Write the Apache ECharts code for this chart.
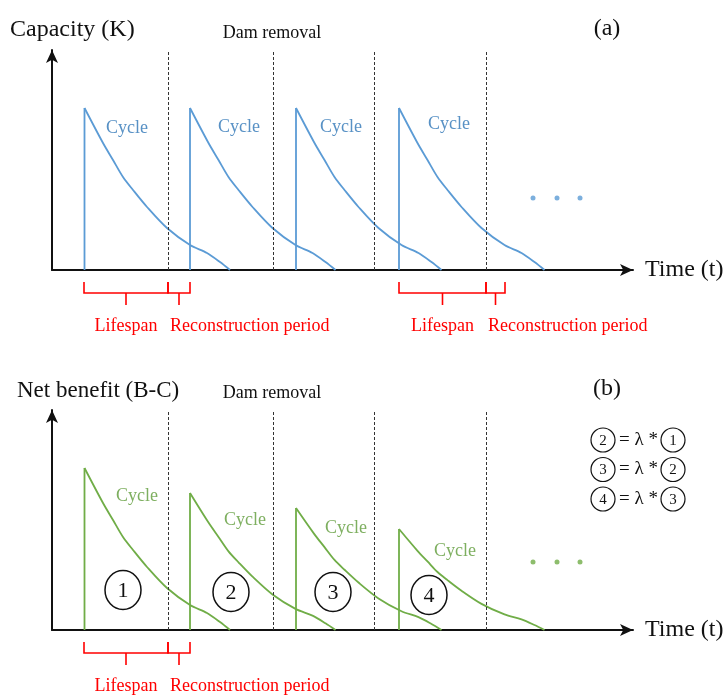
<!DOCTYPE html>
<html>
<head>
<meta charset="utf-8">
<script src="https://cdn.jsdelivr.net/npm/echarts@6/dist/echarts.min.js"></script>
<style>
  html, body { margin: 0; padding: 0; background: #fff; }
  #chart { width: 726px; height: 697px; }
</style>
</head>
<body>
<div id="chart"></div>
<script>
// Schematic timeline of dam cycles (time in arbitrary units).
const cycleStarts = [3.25, 13.8, 24.4, 34.7];
const damRemovals = [11.6, 22.1, 32.2, 43.4];
// One cycle after (re)construction: [time since start, share of the cycle peak]
const decayProfile = [
  [0, 1], [1.85, 0.784], [2.85, 0.679], [3.85, 0.574], [4.85, 0.494],
  [6.25, 0.389], [8.25, 0.259], [10.55, 0.154], [12.25, 0.105],
  [13.55, 0.049], [14.55, 0]
];
const capacityPeaks = [16.2, 16.2, 16.2, 16.2];
const benefitPeaks = [16.2, 13.7, 12.2, 10.1];

const capacityLabelPos = [[7.5, 14.2], [18.7, 14.3], [28.9, 14.3], [39.7, 14.6]];
const benefitLabelPos = [[8.5, 13.4], [19.3, 11.0], [29.4, 10.2], [40.3, 7.9]];
const cycleNumberPos = [[7.1, 4.0], [17.9, 3.8], [28.1, 3.8], [37.7, 3.5]];
const cycleNumbers = ['1', '2', '3', '4'];

const continuationDots = [48.1, 50.5, 52.8];
const capacityDotLevel = 7.2;
const benefitDotLevel = 6.8;

// [from, to, text, text alignment]
const capacityBrackets = [
  [3.2, 11.6, 'Lifespan', 'center'],
  [11.6, 13.8, 'Reconstruction period', 'left'],
  [34.7, 43.4, 'Lifespan', 'center'],
  [43.4, 45.3, 'Reconstruction period', 'left']
];
const benefitBrackets = [
  [3.2, 11.6, 'Lifespan', 'center'],
  [11.6, 13.8, 'Reconstruction period', 'left']
];

// Equation rows: [left circle, right circle]
const lambdaRows = [['2', '1'], ['3', '2'], ['4', '3']];

const SERIF = '"Liberation Serif", "Times New Roman", serif';
const BLUE = '#5B9BD5', BLUE_TEXT = '#2E75B6';
const GREEN = '#70AD47', GREEN_TEXT = '#5E9B38';
const RED = '#FF0000';
const INK = '#111111';

const chart = echarts.init(document.getElementById('chart'), null, { renderer: 'canvas' });

function decayLine(start, peak) {
  return decayProfile.map(([dt, f]) => [start + dt, +(f * peak).toFixed(3)]);
}

function axisPair(idx) {
  return {
    x: {
      type: 'value', gridIndex: idx, min: 0, max: 58.1,
      axisLine: { show: true, lineStyle: { color: '#111', width: 2 }, symbol: ['none', 'arrow'], symbolSize: [9, 13] },
      axisTick: { show: false }, axisLabel: { show: false }, splitLine: { show: false },
      name: 'Time (t)', nameLocation: 'end', nameGap: 12,
      nameTextStyle: { fontFamily: SERIF, fontSize: 24, color: INK, verticalAlign: 'middle' }
    },
    y: {
      type: 'value', gridIndex: idx, min: 0, max: 22,
      axisLine: { show: true, lineStyle: { color: '#111', width: 2 }, symbol: ['none', 'arrow'], symbolSize: [9, 13] },
      axisTick: { show: false }, axisLabel: { show: false }, splitLine: { show: false }
    }
  };
}

const upperAxes = axisPair(0), lowerAxes = axisPair(1);

const series = [];

function addPanel(idx, peaks, color, textColor, labelPos, dotLevel, brackets) {
  cycleStarts.forEach((s, i) => {
    // vertical jump at (re)construction
    const riser = {
      type: 'line', xAxisIndex: idx, yAxisIndex: idx,
      data: [[s, 0], [s, peaks[i]]], showSymbol: false, symbol: 'none',
      lineStyle: { color: color, width: 1.8 }, silent: true, z: 3
    };
    if (i === 0) {
      riser.markLine = {
        silent: true, symbol: ['none', 'none'], label: { show: false },
        lineStyle: { color: '#333', width: 1, type: [3, 2] },
        data: damRemovals.map(d => ({ xAxis: d }))
      };
    }
    series.push(riser);
    // gradual decline over the cycle
    series.push({
      type: 'line', xAxisIndex: idx, yAxisIndex: idx,
      data: decayLine(s, peaks[i]), showSymbol: false, symbol: 'none',
      smooth: 0.3,
      lineStyle: { color: color, width: 1.8 }, silent: true, z: 3
    });
  });
  series.push({
    type: 'scatter', xAxisIndex: idx, yAxisIndex: idx, data: labelPos,
    symbolSize: 0, silent: true, z: 4,
    label: { show: true, position: 'inside', formatter: 'Cycle', color: textColor, fontFamily: SERIF, fontSize: 18 }
  });
  series.push({
    type: 'scatter', xAxisIndex: idx, yAxisIndex: idx,
    data: continuationDots.map(x => [x, dotLevel]),
    symbol: 'circle', symbolSize: 5, itemStyle: { color: color }, silent: true
  });
  series.push({
    type: 'custom', xAxisIndex: idx, yAxisIndex: idx, clip: false, silent: true,
    data: brackets.map(b => [b[0], b[1]]),
    renderItem(params, api) {
      const b = brackets[params.dataIndex];
      const p0 = api.coord([api.value(0), 0]);
      const p1 = api.coord([api.value(1), 0]);
      const a = p0[1];
      const mid = (p0[0] + p1[0]) / 2;
      const centered = b[3] === 'center';
      return {
        type: 'group',
        children: [
          { type: 'polyline', shape: { points: [[p0[0], a + 12], [p0[0], a + 23], [p1[0], a + 23], [p1[0], a + 12]] },
            style: { stroke: RED, lineWidth: 1.6, fill: 'none' } },
          { type: 'line', shape: { x1: mid, y1: a + 23, x2: mid, y2: a + 35 },
            style: { stroke: RED, lineWidth: 1.6 } },
          { type: 'text', style: { text: b[2], x: centered ? mid : p0[0] + 2, y: a + 56,
            align: centered ? 'center' : 'left', verticalAlign: 'middle',
            fill: RED, fontFamily: SERIF, fontSize: 18 } }
        ]
      };
    }
  });
}

addPanel(0, capacityPeaks, BLUE, BLUE_TEXT, capacityLabelPos, capacityDotLevel, capacityBrackets);
addPanel(1, benefitPeaks, GREEN, GREEN_TEXT, benefitLabelPos, benefitDotLevel, benefitBrackets);

// Circled cycle numbers under the net-benefit curves
series.push({
  type: 'custom', xAxisIndex: 1, yAxisIndex: 1, clip: false, silent: true, z: 5,
  data: cycleNumberPos,
  renderItem(params, api) {
    const p = api.coord([api.value(0), api.value(1)]);
    return {
      type: 'group',
      children: [
        { type: 'ellipse', shape: { cx: p[0], cy: p[1], rx: 18, ry: 19.5 },
          style: { fill: 'none', stroke: INK, lineWidth: 1.5 } },
        { type: 'text', style: { text: cycleNumbers[params.dataIndex], x: p[0], y: p[1] + 1,
          align: 'center', verticalAlign: 'middle', fill: INK, fontFamily: SERIF, fontSize: 22 } }
      ]
    };
  }
});

// Equation block: each cycle's net benefit is lambda times the previous one
function circled(cx, cy, txt) {
  return [
    { type: 'ellipse', shape: { cx: cx, cy: cy, rx: 12, ry: 12 }, style: { fill: 'none', stroke: INK, lineWidth: 1.2 } },
    { type: 'text', x: cx, y: cy + 1, style: { text: txt, align: 'center', verticalAlign: 'middle', fill: INK, fontFamily: SERIF, fontSize: 15 } }
  ];
}
const eqElements = [];
lambdaRows.forEach((row, i) => {
  const cy = 440 + i * 29.5;
  eqElements.push(...circled(603, cy, row[0]));
  eqElements.push({ type: 'text', x: 619, y: cy, style: { text: '= λ *', align: 'left', verticalAlign: 'middle', fill: INK, fontFamily: SERIF, fontSize: 19 } });
  eqElements.push(...circled(673, cy, row[1]));
});

const titleStyle = (text, size) => ({ text: text, fill: INK, fontFamily: SERIF, fontSize: size, verticalAlign: 'middle' });

chart.setOption({
  animation: false,
  backgroundColor: '#ffffff',
  grid: [
    { left: 52, top: 50, width: 581, height: 220, outerBoundsMode: 'none', containLabel: false },
    { left: 52, top: 410, width: 581, height: 220, outerBoundsMode: 'none', containLabel: false }
  ],
  xAxis: [upperAxes.x, lowerAxes.x],
  yAxis: [upperAxes.y, lowerAxes.y],
  series: series,
  graphic: [
    { type: 'text', x: 10, y: 30, style: titleStyle('Capacity (K)', 24) },
    { type: 'text', x: 272, y: 33, style: Object.assign(titleStyle('Dam removal', 18), { align: 'center' }) },
    { type: 'text', x: 607, y: 29, style: Object.assign(titleStyle('(a)', 24), { align: 'center' }) },
    { type: 'text', x: 17, y: 391, style: titleStyle('Net benefit (B-C)', 23) },
    { type: 'text', x: 272, y: 393, style: Object.assign(titleStyle('Dam removal', 18), { align: 'center' }) },
    { type: 'text', x: 607, y: 389, style: Object.assign(titleStyle('(b)', 24), { align: 'center' }) },
    { type: 'group', children: eqElements }
  ]
});
</script>
</body>
</html>
